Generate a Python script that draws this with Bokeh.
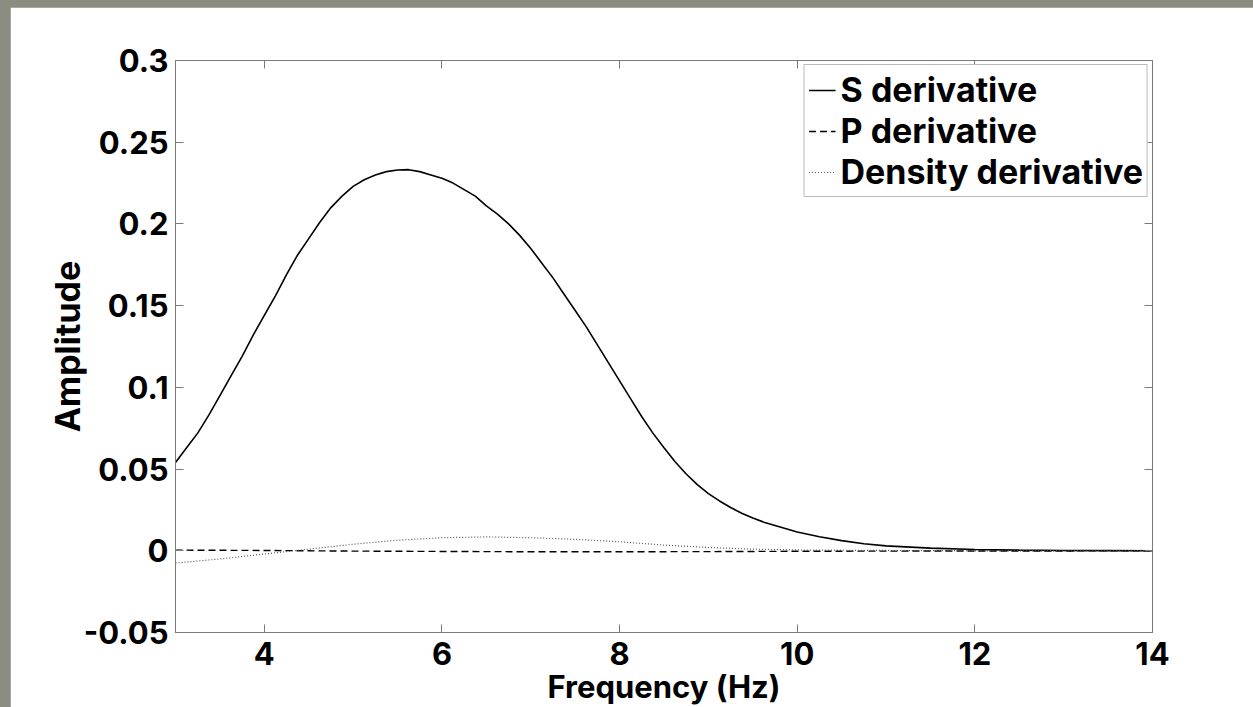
from bokeh.plotting import figure
from bokeh.models import LinearAxis, FixedTicker, Legend, LegendItem, Range1d
from bokeh.embed import file_html
from bokeh.resources import INLINE

# ---- data ----
freq_s = [3.0, 3.125, 3.25, 3.375, 3.5, 3.625, 3.75, 3.875, 4.0, 4.125, 4.25, 4.375,
          4.5, 4.625, 4.75, 4.875, 5.0, 5.125, 5.25, 5.375, 5.5, 5.625, 5.75, 5.875,
          6.0, 6.125, 6.25, 6.375, 6.5, 6.625, 6.75, 6.875, 7.0, 7.125, 7.25, 7.375,
          7.5, 7.625, 7.75, 7.875, 8.0, 8.125, 8.25, 8.375, 8.5, 8.625, 8.75, 8.875,
          9.0, 9.125, 9.25, 9.375, 9.5, 9.625, 9.75, 9.875, 10.0, 10.25, 10.5, 10.75,
          11.0, 11.5, 12.0, 12.5, 13.0, 13.5, 14.0]
amp_s = [0.054, 0.063, 0.072, 0.083, 0.095, 0.107, 0.119, 0.132, 0.144, 0.156, 0.169, 0.181,
         0.191, 0.201, 0.210, 0.217, 0.223, 0.227, 0.230, 0.232, 0.233, 0.2332, 0.232, 0.230,
         0.228, 0.225, 0.221, 0.217, 0.211, 0.206, 0.200, 0.193, 0.185, 0.176, 0.167, 0.157,
         0.147, 0.137, 0.126, 0.115, 0.104, 0.093, 0.082, 0.072, 0.063, 0.0545, 0.047, 0.0405,
         0.035, 0.0305, 0.0265, 0.023, 0.020, 0.0175, 0.0155, 0.0135, 0.0115, 0.0086, 0.0062, 0.0043,
         0.0030, 0.0016, 0.0008, 0.0004, 0.0002, 0.0001, 0.0]

freq_p = [3.0, 4.0, 5.0, 6.0, 7.0, 8.0, 9.0, 10.0, 11.0, 12.0, 13.0, 14.0]
amp_p = [0.0004, 0.0002, -0.0002, -0.0004, -0.0006, -0.0006, -0.0005, -0.0003, -0.0002, -0.0001, -0.0001, 0.0]

freq_rho = [3.0, 3.5, 4.0, 4.5, 5.0, 5.5, 6.0, 6.5, 7.0, 7.5, 8.0, 8.5, 9.0,
            9.5, 10.0, 11.0, 12.0, 13.0, 14.0]
amp_rho = [-0.0075, -0.005, -0.002, 0.001, 0.004, 0.0065, 0.008, 0.0085, 0.008, 0.007,
           0.0055, 0.0035, 0.002, 0.001, 0.0005, 0.0002, 0.0, 0.0, 0.0]

series_labels = ["S derivative", "P derivative", "Density derivative"]

x_ticks = [4, 6, 8, 10, 12, 14]
x_tick_labels = ["4", "6", "8", "10", "12", "14"]
y_ticks = [-0.05, 0.0, 0.05, 0.1, 0.15, 0.2, 0.25, 0.3]
y_tick_labels = ["-0.05", "0", "0.05", "0.1", "0.15", "0.2", "0.25", "0.3"]

FONT = "Inter"
GREY = "#7a7a7a"
FS = "31px"

p = figure(width=1243, height=700, output_backend="svg", toolbar_location=None,
           x_range=Range1d(3, 14), y_range=Range1d(-0.05, 0.3),
           min_border_left=165, min_border_right=101, min_border_top=53, min_border_bottom=74,
           background_fill_color="white", border_fill_color="white",
           outline_line_color=GREY, outline_line_width=1)
p.styles = {"margin-left": "10px", "margin-top": "7px"}
p.grid.visible = False

r_s = p.line(freq_s, amp_s, line_color="black", line_width=1.6)
r_p = p.line(freq_p, amp_p, line_color="black", line_width=1.4, line_dash="7 4")
r_rho = p.line(freq_rho, amp_rho, line_color="#555555", line_width=1.2, line_dash="1 2")


def style_axis(ax, show_labels=True):
    ax.major_tick_in = 8
    ax.major_tick_out = 0
    ax.minor_tick_in = 0
    ax.minor_tick_out = 0
    ax.major_tick_line_color = GREY
    ax.axis_line_color = GREY
    ax.major_label_text_font = FONT
    ax.major_label_text_font_style = "bold"
    ax.major_label_text_color = "black"
    ax.major_label_text_font_size = FS
    if not show_labels:
        ax.major_label_text_alpha = 0
    ax.axis_label_text_font = FONT
    ax.axis_label_text_font_style = "bold"
    ax.axis_label_text_font_size = FS
    ax.axis_label_text_color = "black"


xa = p.xaxis[0]
xa.ticker = FixedTicker(ticks=x_ticks)
xa.major_label_overrides = dict(zip(x_ticks, x_tick_labels))
style_axis(xa)
xa.major_label_standoff = 9
xa.axis_label = "Frequency (Hz)"
xa.axis_label_standoff = 0

ya = p.yaxis[0]
ya.ticker = FixedTicker(ticks=y_ticks)
ya.major_label_overrides = dict(zip(y_ticks, y_tick_labels))
style_axis(ya)
ya.major_label_standoff = 7
ya.axis_label = "Amplitude"
ya.axis_label_text_font_size = "34px"
ya.axis_label_standoff = -7

top = LinearAxis(ticker=FixedTicker(ticks=x_ticks))
style_axis(top, show_labels=False)
top.major_label_standoff = 0
top.axis_line_color = None
p.add_layout(top, "above")

right = LinearAxis(ticker=FixedTicker(ticks=y_ticks))
style_axis(right, show_labels=False)
right.major_label_standoff = 0
right.axis_line_color = None
p.add_layout(right, "right")

legend = Legend(items=[LegendItem(label=series_labels[0], renderers=[r_s]),
                       LegendItem(label=series_labels[1], renderers=[r_p]),
                       LegendItem(label=series_labels[2], renderers=[r_rho])],
                location="top_right")
legend.label_text_font = FONT
legend.label_text_font_style = "bold"
legend.label_text_font_size = "34px"
legend.label_text_color = "black"
legend.border_line_color = GREY
legend.border_line_width = 1
legend.background_fill_color = "white"
legend.background_fill_alpha = 1.0
legend.margin = 4
legend.padding = 4
legend.spacing = 0
legend.glyph_width = 27
legend.label_standoff = 5
p.add_layout(legend)

html = file_html(p, INLINE)
bg = "<style>html,body{margin:0 !important;padding:0;background:#8a8d80;}</style>"
html = html.replace("</head>", bg + "</head>", 1)
open("out.html", "w").write(html)
